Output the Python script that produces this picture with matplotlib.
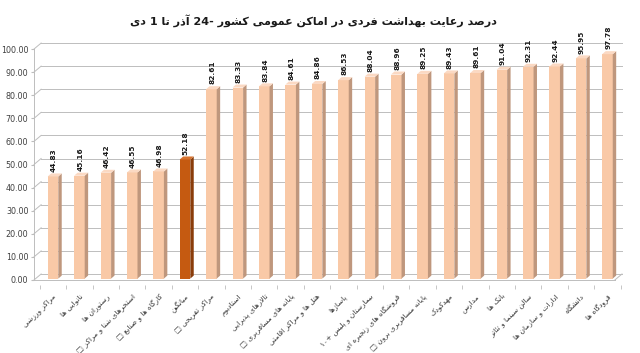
import matplotlib
matplotlib.use("Agg")
import matplotlib.pyplot as plt
from matplotlib.patches import Polygon

# ---------------- data ----------------
categories = [
    "مراکز ورزشی", "نانوایی ها", "رستوران ها", "استخرهای شنا و مراکز □",
    "کارگاه ها و صنایع □", "میانگین", "مراکز تفریحی □", "استادیوم",
    "تالارهای پذیرایی", "پایانه های مسافربری □", "هتل ها و مراکز اقامتی",
    "پاساژها", "بیمارستان و پلیس ۱۰+", "فروشگاه های زنجیره ای",
    "پایانه مسافربری برون □", "مهدکودک", "مدارس", "بانک ها",
    "سالن سینما و تئاتر", "ادارات و سازمان ها", "دانشگاه", "فرودگاه ها",
]
values = [44.83, 45.16, 46.42, 46.55, 46.98, 52.18, 82.61, 83.33, 83.84, 84.61,
          84.86, 86.53, 88.04, 88.96, 89.25, 89.43, 89.61, 91.04, 92.31, 92.44,
          95.95, 97.78]
highlight = "میانگین"
yticks = [0, 10, 20, 30, 40, 50, 60, 70, 80, 90, 100]
title = "درصد رعایت بهداشت فردی در اماکن عمومی کشور -24 آذر تا 1 دی"

# ---------------- minimal Persian shaping ----------------
FORMS = {
    "ا": (0xFE8D, 0xFE8E), "آ": (0xFE81, 0xFE82), "د": (0xFEA9, 0xFEAA),
    "ذ": (0xFEAB, 0xFEAC), "ر": (0xFEAD, 0xFEAE), "ز": (0xFEAF, 0xFEB0),
    "ژ": (0xFB8A, 0xFB8B), "و": (0xFEED, 0xFEEE),
    "ب": (0xFE8F, 0xFE90, 0xFE91, 0xFE92), "پ": (0xFB56, 0xFB57, 0xFB58, 0xFB59),
    "ت": (0xFE95, 0xFE96, 0xFE97, 0xFE98), "ث": (0xFE99, 0xFE9A, 0xFE9B, 0xFE9C),
    "ج": (0xFE9D, 0xFE9E, 0xFE9F, 0xFEA0), "چ": (0xFB7A, 0xFB7B, 0xFB7C, 0xFB7D),
    "ح": (0xFEA1, 0xFEA2, 0xFEA3, 0xFEA4), "خ": (0xFEA5, 0xFEA6, 0xFEA7, 0xFEA8),
    "س": (0xFEB1, 0xFEB2, 0xFEB3, 0xFEB4), "ش": (0xFEB5, 0xFEB6, 0xFEB7, 0xFEB8),
    "ص": (0xFEB9, 0xFEBA, 0xFEBB, 0xFEBC), "ض": (0xFEBD, 0xFEBE, 0xFEBF, 0xFEC0),
    "ط": (0xFEC1, 0xFEC2, 0xFEC3, 0xFEC4), "ظ": (0xFEC5, 0xFEC6, 0xFEC7, 0xFEC8),
    "ع": (0xFEC9, 0xFECA, 0xFECB, 0xFECC), "غ": (0xFECD, 0xFECE, 0xFECF, 0xFED0),
    "ف": (0xFED1, 0xFED2, 0xFED3, 0xFED4), "ق": (0xFED5, 0xFED6, 0xFED7, 0xFED8),
    "ک": (0xFB8E, 0xFB8F, 0xFB90, 0xFB91), "گ": (0xFB92, 0xFB93, 0xFB94, 0xFB95),
    "ل": (0xFEDD, 0xFEDE, 0xFEDF, 0xFEE0), "م": (0xFEE1, 0xFEE2, 0xFEE3, 0xFEE4),
    "ن": (0xFEE5, 0xFEE6, 0xFEE7, 0xFEE8), "ه": (0xFEE9, 0xFEEA, 0xFEEB, 0xFEEC),
    "ی": (0xFBFC, 0xFBFD, 0xFBFE, 0xFBFF), "ئ": (0xFE89, 0xFE8A, 0xFE8B, 0xFE8C),
}
LTR = set("0123456789۰۱۲۳۴۵۶۷۸۹.+")


def shape(s):
    chars = []
    i = 0
    while i < len(s):
        if s[i] == "ل" and i + 1 < len(s) and s[i + 1] == "ا":
            chars.append("LA")
            i += 2
        else:
            chars.append(s[i])
            i += 1

    def joins_left(c):
        return c in FORMS and len(FORMS[c]) == 4

    def is_letter(c):
        return c in FORMS or c == "LA"

    out = []
    for k, c in enumerate(chars):
        prev = chars[k - 1] if k > 0 else None
        nxt = chars[k + 1] if k + 1 < len(chars) else None
        pj = prev is not None and joins_left(prev)
        if c == "LA":
            out.append(chr(0xFEFC if pj else 0xFEFB))
            continue
        if c not in FORMS:
            out.append(c)
            continue
        f = FORMS[c]
        nj = len(f) == 4 and nxt is not None and is_letter(nxt)
        if pj and nj:
            out.append(chr(f[3]))
        elif pj:
            out.append(chr(f[1]))
        elif nj:
            out.append(chr(f[2]))
        else:
            out.append(chr(f[0]))
    rev = out[::-1]
    res, run = [], []
    for c in rev:
        if c in LTR:
            run.append(c)
        else:
            if run:
                res.extend(run[::-1])
                run = []
            res.append(c)
    if run:
        res.extend(run[::-1])
    return "".join(res)


# ---------------- figure ----------------
plt.rcParams["font.family"] = ["DejaVu Sans"]
fig = plt.figure(figsize=(6.4, 3.53), dpi=100)
fig.patch.set_facecolor("white")

ylo, yhi = -2, 104
ax = fig.add_axes([34 / 640, 1 - 284.6 / 353, (622 - 34) / 640, (284.6 - 39.8) / 353])
n = len(values)
xl, xr = -0.72, n - 1 + 0.55
ax.set_xlim(xl, xr)
ax.set_ylim(ylo, yhi)
for sp in ax.spines.values():
    sp.set_visible(False)

dx, dy = 0.27, 2.6
grid_c = "#BDBDBD"
for g in yticks:
    ax.plot([xl + dx, xr], [g + dy, g + dy], color=grid_c, lw=0.7, zorder=1, clip_on=False)
    ax.plot([xl, xl + dx], [g, g + dy], color=grid_c, lw=0.7, zorder=1, clip_on=False)
ax.plot([xl, xl], [0, yticks[-1]], color=grid_c, lw=0.7, clip_on=False)
ax.plot([xl, xr - dx], [0, 0], color=grid_c, lw=0.7, clip_on=False)
ax.plot([xr - dx, xr], [0, dy], color=grid_c, lw=0.7, clip_on=False)

w, sx, sy = 0.40, 0.13, 1.3
for i, (c, v) in enumerate(zip(categories, values)):
    if c == highlight:
        front, side, top = "#C55A11", "#8A3D0B", "#D8732F"
    else:
        front, side, top = "#F9C9A7", "#BF977D", "#FBD9C3"
    x0, x1 = i - w / 2, i + w / 2
    base = 0.6
    ax.add_patch(Polygon([(x0, base), (x1, base), (x1, v), (x0, v)], closed=True,
                         facecolor=front, edgecolor="none", zorder=3))
    ax.add_patch(Polygon([(x1, base), (x1 + sx, base + sy), (x1 + sx, v + sy), (x1, v)],
                         closed=True, facecolor=side, edgecolor="none", zorder=3))
    ax.add_patch(Polygon([(x0, v), (x1, v), (x1 + sx, v + sy), (x0 + sx, v + sy)],
                         closed=True, facecolor=top, edgecolor="none", zorder=3))
    ax.text(i + 0.03, v + sy + 0.8, f"{v:.2f}", rotation=90, ha="center", va="bottom",
            fontsize=5.3, fontweight="bold", color="#1a1a1a", clip_on=False, zorder=4)

ax.set_yticks(yticks)
ax.set_yticklabels([f"{t:.2f}" for t in yticks], fontsize=5.8, color="#404040")
ax.tick_params(axis="y", length=2, color=grid_c, pad=2)
ax.set_xticks(range(n))
ax.set_xticklabels([shape(c) for c in categories], rotation=45, ha="right",
                   rotation_mode="anchor", fontsize=5.3, color="#333333")
ax.tick_params(axis="x", length=0, pad=6)
ax.set_xticks([i + 0.5 for i in range(-1, n)], minor=True)
ax.tick_params(axis="x", which="minor", length=3, color=grid_c)

fig.text(0.49, 0.943, shape(title), ha="center", va="center", fontsize=8,
         fontweight="bold", color="#1a1a1a")

fig.savefig("out.png", dpi=100, facecolor="white")
